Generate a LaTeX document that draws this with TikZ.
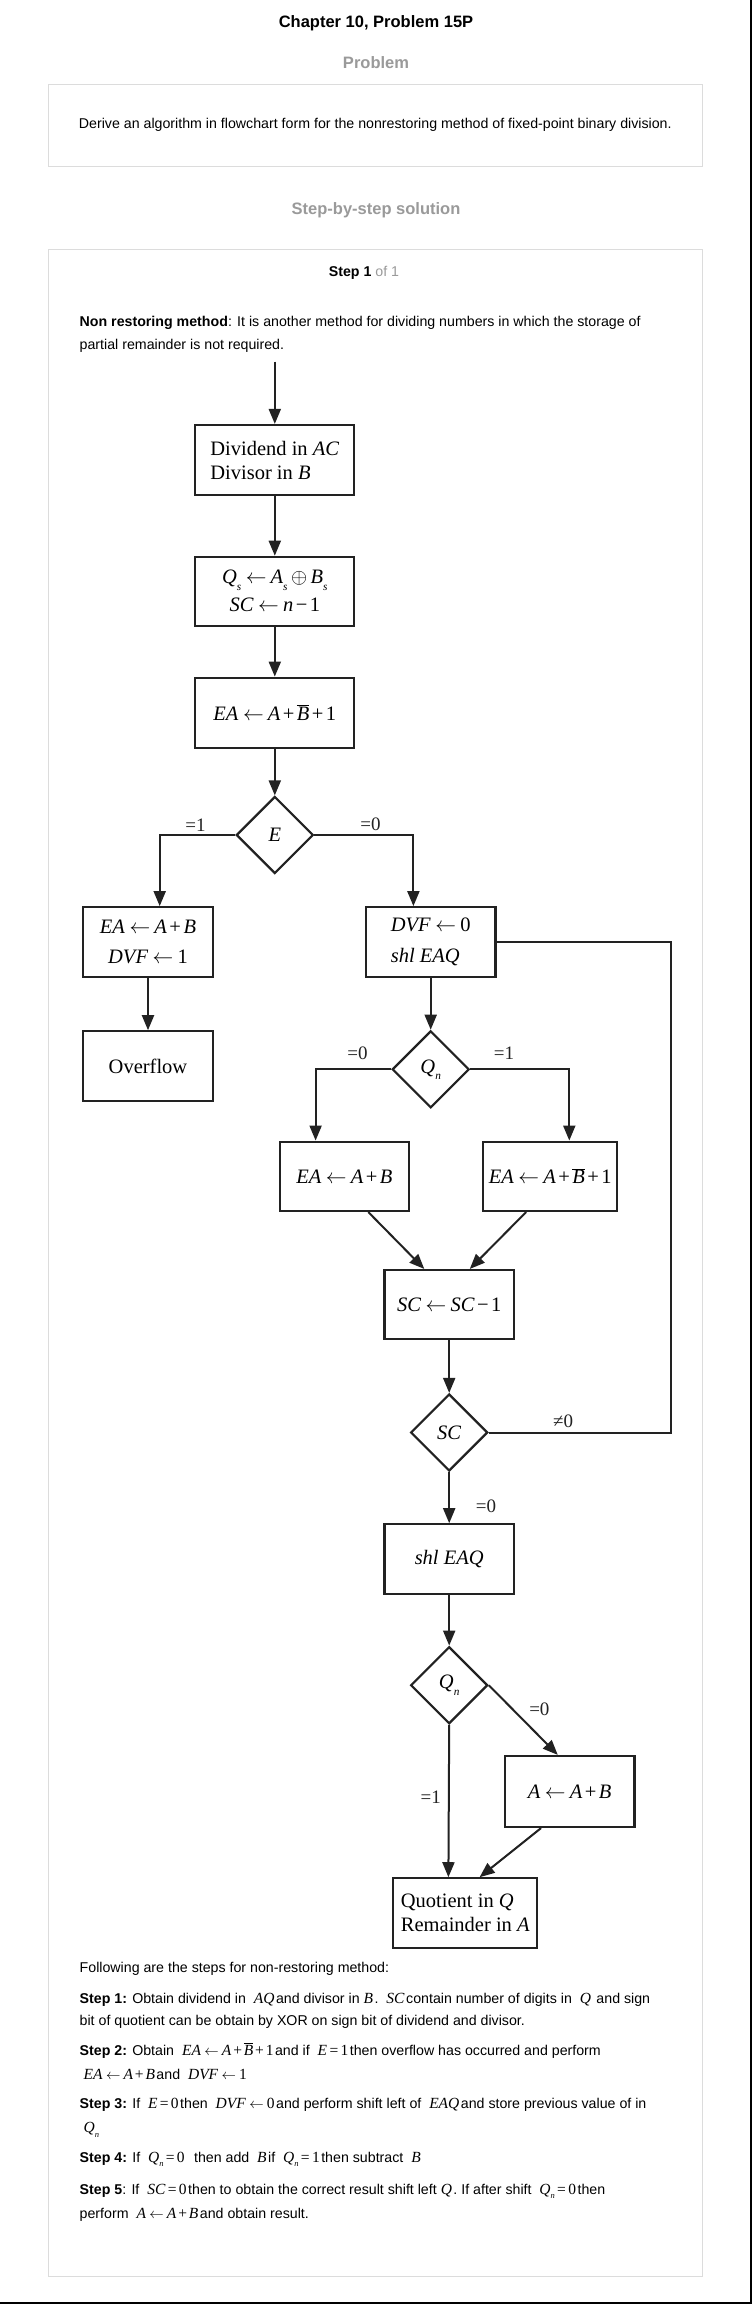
\documentclass[tikz,border=0pt]{standalone}
\usepackage{fontspec}
\usepackage{graphicx}
\setmainfont{Liberation Sans}
\newfontfamily\tnr{Liberation Serif}
\usetikzlibrary{arrows.meta,shapes.geometric}
\definecolor{gr}{HTML}{9A9A9A}
\definecolor{bd}{HTML}{DCDCDC}
\definecolor{lc}{HTML}{222222}
\newcommand\df{\tnr\fontsize{20.5}{24}\selectfont}
\newcommand\lf{\tnr\fontsize{19}{19}\selectfont}
\newcommand\bodyf{\fontsize{14.2}{17}\selectfont}
\newcommand\V[1]{\textit{#1}}
\newcommand\LA{\hspace{0.22em}$\leftarrow$\hspace{0.2em}}
\newcommand\PL{\hspace{0.12em}+\hspace{0.12em}}
\newcommand\MN{\hspace{0.12em}−\hspace{0.12em}}
\newcommand\EQ{\hspace{0.15em}=\hspace{0.15em}}
\newcommand\BB{$\overline{\hbox{\textit{B}}}$}
\newcommand\SUB[1]{\raisebox{-0.3em}{\scalebox{0.55}{\textit{#1}}}}
\newcommand\bm[1]{{\tnr\fontsize{15.5}{17}\selectfont #1}\hspace{1.5pt}}
\begin{document}
\begin{tikzpicture}[x=1pt,y=-1pt,
  box/.style={draw=lc, line width=2.2pt, rectangle, inner sep=0pt, font=\df},
  dec/.style={draw=lc, line width=2.2pt, diamond, aspect=1, inner sep=0pt, minimum width=77pt, minimum height=77pt, font=\df},
  flow/.style={draw=lc, line width=2pt, -{Triangle[length=15pt,width=12pt]}},
  plain/.style={draw=lc, line width=2pt},
  lbl/.style={font=\lf, inner sep=0pt, text=lc},
  body/.style={font=\bodyf, inner sep=0pt, anchor=base west},
  head/.style={font=\fontsize{16.5}{20}\selectfont\bfseries, inner sep=0pt, anchor=base},
  frame/.style={draw=bd, line width=1.3pt}
]
\useasboundingbox (0,0) rectangle (752,2304);
\fill[white] (0,0) rectangle (752,2304);
% screenshot edges
\fill[black] (749.8,0) rectangle (752,2304);
\fill[black] (0,2301.8) rectangle (752,2304);
% frames
\draw[frame] (48.7,84.3) rectangle (702.3,166.2);
\draw[frame] (48.7,249.3) rectangle (702.3,2276.3);
% headings
\node[head] (title) at (376,27.7) {Chapter 10, Problem 15P};
\node[head, text=gr] (prob) at (376,69) {Problem};
\node[font=\bodyf, inner sep=0pt, anchor=base] (derive) at (375.3,128.3) {Derive an algorithm in flowchart form for the nonrestoring method of fixed-point binary division.};
\node[head, text=gr] (sbs) at (376,214) {Step-by-step solution};
\node[font=\bodyf, inner sep=0pt, anchor=base] (stp) at (364,276.7) {\textbf{Step 1} \textcolor{gr}{of 1}};
\node[body] (nr1) at (79.5,326.7) {\textbf{Non restoring method}: It is another method for dividing numbers in which the storage of};
\node[body] (nr2) at (79.5,349) {partial remainder is not required.};
% flowchart
\coordinate (start) at (274.8,361.7);
\node[box, minimum width=159pt, minimum height=70pt, align=left] (b1) at (274.8,460) {Dividend in \V{AC}\\Divisor in \V{B}};
\node[box, minimum width=159pt, minimum height=69pt, align=center] (b2) at (274.8,591.3) {\V{Q}\SUB{s}\LA\V{A}\SUB{s}\,$\oplus$\,\V{B}\SUB{s}\\[4pt]\V{SC}\LA\V{n}\MN1};
\node[box, minimum width=159pt, minimum height=70pt] (b3) at (274.8,712.7) {\V{EA}\LA\V{A}\PL\BB\PL1};
\node[dec] (E) at (274.8,835) {\V{E}};
\node[box, minimum width=130pt, minimum height=70pt, align=center] (L1) at (148,942.2) {\V{EA}\LA\V{A}\PL\V{B}\\[6pt]\V{DVF}\LA1};
\node[box, minimum width=130pt, minimum height=70pt] (ov) at (148,1066.3) {Overflow};
\node[box, minimum width=129.4pt, minimum height=70pt, align=left] (R1) at (430.7,942.2) {\V{DVF}\LA0\\[7pt]\V{shl}\ \V{EAQ}};
\node[dec] (Q1) at (430.7,1069.3) {\V{Q}\SUB{n}};
\node[box, minimum width=129.5pt, minimum height=69.3pt] (La) at (344.4,1176.3) {\V{EA}\LA\V{A}\PL\V{B}};
\node[box, minimum width=134.3pt, minimum height=69.3pt] (Rs) at (550.2,1176.3) {\V{EA}\LA\V{A}\PL\BB\PL1};
\node[box, minimum width=129.4pt, minimum height=69.3pt] (dec) at (449.2,1304.7) {\V{SC}\LA\V{SC}\MN1};
\node[dec] (SC) at (449.2,1432.5) {\V{SC}};
\node[box, minimum width=129.4pt, minimum height=70pt] (shl) at (449.2,1559.3) {\V{shl EAQ}};
\node[dec] (Q2) at (449.2,1685.2) {\V{Q}\SUB{n}};
\node[box, minimum width=129.9pt, minimum height=71pt] (Aa) at (569.6,1791.5) {\V{A}\LA\V{A}\PL\V{B}};
\node[box, minimum width=143.9pt, minimum height=69.4pt, align=left] (fin) at (465.3,1913) {Quotient in \V{Q}\\Remainder in \V{A}};
\coordinate (loopx) at (670.5,0);
% connectors
\draw[flow] (start) -- (b1.north);
\draw[flow] (b1.south) -- (b2.north);
\draw[flow] (b2.south) -- (b3.north);
\draw[flow] (b3.south) -- (E.north);
\draw[flow] (E.west) -| node[lbl, pos=0.263, anchor=south, yshift=3pt] (e1) {=1} ([xshift=11.7pt]L1.north);
\draw[flow] (E.east) -| node[lbl, pos=0.283, anchor=south, yshift=3pt] (e0) {=0} ([xshift=-17.3pt]R1.north);
\draw[flow] (L1.south) -- (ov.north);
\draw[flow] (R1.south) -- (Q1.north);
\draw[flow] (Q1.west) -| node[lbl, pos=0.223, anchor=south, yshift=9pt] (q0) {=0} ([xshift=-28.8pt]La.north);
\draw[flow] (Q1.east) -| node[lbl, pos=0.17, anchor=south, yshift=9pt] (q1) {=1} ([xshift=19.1pt]Rs.north);
\draw[flow] ([xshift=23.9pt]La.south) -- ([xshift=-24.9pt]dec.north);
\draw[flow] ([xshift=-24.1pt]Rs.south) -- ([xshift=20.6pt]dec.north);
\draw[flow] (dec.south) -- (SC.north);
\draw[plain] (SC.east) -- node[lbl, pos=0.409, anchor=south, yshift=4pt] (sn) {≠0} (SC.east -| loopx) |- (R1.east);
\draw[flow] (SC.south) -- node[lbl, pos=0.66, anchor=west, xshift=25.6pt] (s0) {=0} (shl.north);
\draw[flow] (shl.south) -- (Q2.north);
\draw[flow] (Q2.east) -- node[lbl, pos=0.34, anchor=west, xshift=16pt] (r0) {=0} ([xshift=-11.8pt]Aa.north);
\draw[flow] (Q2.south) -- node[lbl, pos=0.477, anchor=east, xshift=-7pt] (r1) {=1} ([xshift=-16.9pt]fin.north);
\draw[flow] ([xshift=-28.6pt]Aa.south) -- ([xshift=14.3pt]fin.north);
% steps text
\node[body] (f0) at (79.5,1972.7) {Following are the steps for non-restoring method:};
\node[body] (s1a) at (79.5,2003.3) {\textbf{Step 1:} Obtain dividend in\ \ \bm{\V{AQ}}and divisor in \bm{\V{B}}.\ \ \bm{\V{SC}}contain number of digits in\ \ \bm{\V{Q}}\ and sign};
\node[body] (s1b) at (79.5,2025) {bit of quotient can be obtain by XOR on sign bit of dividend and divisor.};
\node[body] (s2a) at (79.5,2055) {\textbf{Step 2:} Obtain\ \ \bm{\V{EA}\LA\V{A}\PL\BB\PL1}and if\ \ \bm{\V{E}\EQ1}then overflow has occurred and perform};
\node[body] (s2b) at (79.5,2079.3) {\ \bm{\V{EA}\LA\V{A}\PL\V{B}}and\ \ \bm{\V{DVF}\LA1}};
\node[body] (s3a) at (79.5,2108.3) {\textbf{Step 3:} If\ \ \bm{\V{E}\EQ0}then\ \ \bm{\V{DVF}\LA0}and perform shift left of\ \ \bm{\V{EAQ}}and store previous value of in};
\node[body] (s3b) at (79.5,2132.7) {\ \bm{\V{Q}\SUB{n}}};
\node[body] (s4) at (79.5,2162.3) {\textbf{Step 4:} If\ \ \bm{\V{Q}\SUB{n}\EQ0}\ \ then add\ \ \bm{\V{B}}if\ \ \bm{\V{Q}\SUB{n}\EQ1}then subtract\ \ \bm{\V{B}}};
\node[body] (s5a) at (79.5,2194) {\textbf{Step 5}: If\ \ \bm{\V{SC}\EQ0}then to obtain the correct result shift left \bm{\V{Q}}. If after shift\ \ \bm{\V{Q}\SUB{n}\EQ0}then};
\node[body] (s5b) at (79.5,2218.3) {perform\ \ \bm{\V{A}\LA\V{A}\PL\V{B}}and obtain result.};
\end{tikzpicture}
\end{document}
